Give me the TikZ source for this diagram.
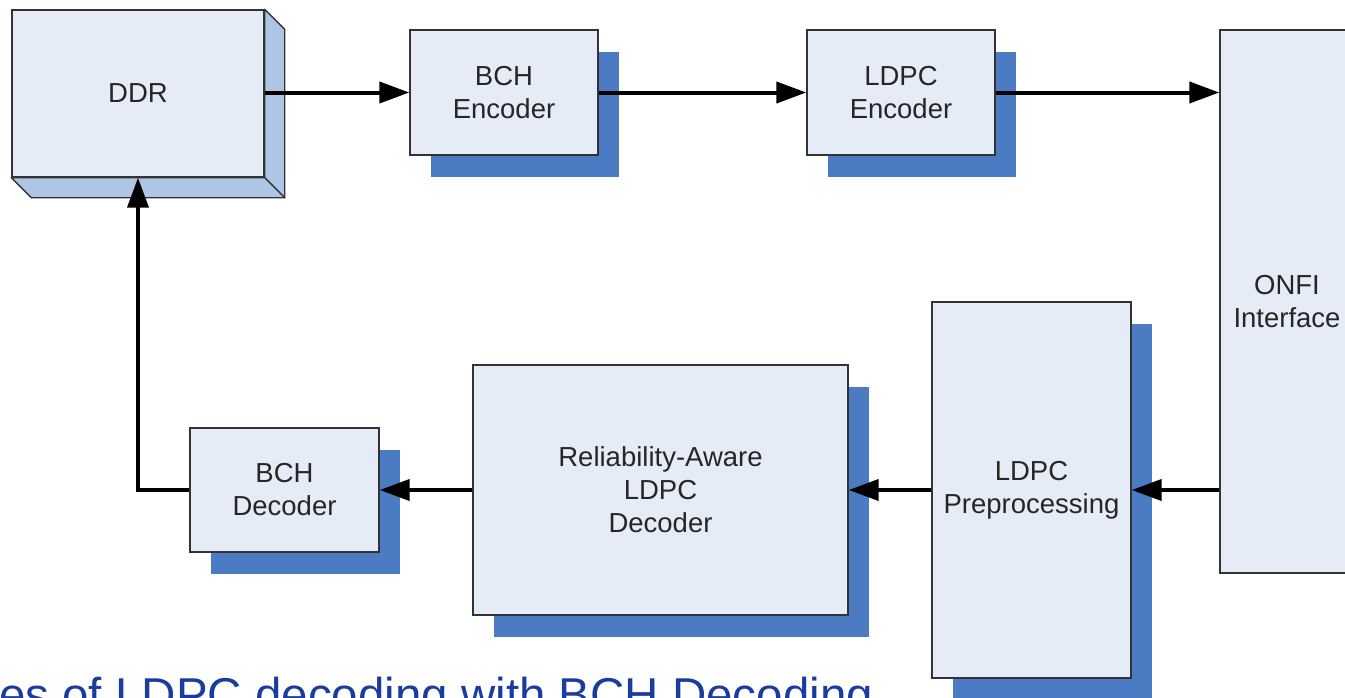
\documentclass[tikz,border=0pt]{standalone}
\usepackage{fontspec}
\setmainfont{Liberation Sans}
\usetikzlibrary{arrows.meta,calc,shadows}

\definecolor{boxfill}{HTML}{E6ECF7}
\definecolor{boxline}{HTML}{333333}
\definecolor{shadowblue}{HTML}{4A7BC3}
\definecolor{sidefill}{HTML}{AFC5E5}
\definecolor{captionblue}{HTML}{1B3C9C}
\definecolor{labelgray}{HTML}{262626}

\tikzset{
  block/.style={draw=boxline, line width=1.4pt, fill=boxfill, rectangle,
    align=center, text=labelgray, inner sep=0pt,
    font=\fontsize{27.5}{33}\selectfont},
  shadowed/.style={general shadow={shadow xshift=20.5pt, shadow yshift=-21.5pt,
    fill=shadowblue}},
  face/.style={draw=boxline, line width=1.4pt, fill=sidefill, line join=round},
  flow/.style={line width=4pt, -{Triangle[length=30pt,width=21pt]}},
}

\begin{document}
\begin{tikzpicture}[x=1pt, y=-1pt]
\useasboundingbox (0,0) rectangle (1345,697);

% DDR memory: front face plus right and bottom faces of the box
\node[block, minimum width=252pt, minimum height=167pt] (ddr) at (138,93.5) {DDR};
\draw[face] (ddr.north east) -- ++(20,20) -- ($(ddr.south east)+(20,20)$) -- (ddr.south east) -- cycle;
\draw[face] (ddr.south west) -- (ddr.south east) -- ($(ddr.south east)+(20,20)$) -- ($(ddr.south west)+(20,20)$) -- cycle;

% encoding path
\node[block, shadowed, minimum width=188pt, minimum height=125pt] (benc) at (504,92.5) {BCH\\Encoder};
\node[block, shadowed, minimum width=188pt, minimum height=125pt] (lenc) at (901,92.5) {LDPC\\Encoder};

% flash interface
\node[block, minimum width=134pt, minimum height=543pt] (onfi) at (1287,301.5) {ONFI\\Interface};

% decoding path
\node[block, shadowed, minimum width=199pt, minimum height=376pt] (prep) at (1031.5,490) {LDPC\\Preprocessing};
\node[block, shadowed, minimum width=375pt, minimum height=250pt] (rdec) at (660.5,490) {Reliability-Aware\\LDPC\\Decoder};
\node[block, shadowed, minimum width=189pt, minimum height=124pt] (bdec) at (284.5,490) {BCH\\Decoder};

% connectors
\draw[flow] (ddr.east |- benc.west) -- (benc.west);
\draw[flow] (benc.east) -- (lenc.west);
\draw[flow] (lenc.east) -- (lenc.east -| onfi.west);
\draw[flow] (onfi.west |- prep.east) -- (prep.east);
\draw[flow] (prep.west) -- (rdec.east);
\draw[flow] (rdec.west) -- (bdec.east);
\draw[flow] (bdec.west) -| (ddr.south);

% caption
\node[anchor=base west, inner sep=0pt, text=captionblue,
  font=\fontsize{47.5}{56}\selectfont] (cap) at (-1,711) {es of LDPC decoding with BCH Decoding};
\end{tikzpicture}
\end{document}
